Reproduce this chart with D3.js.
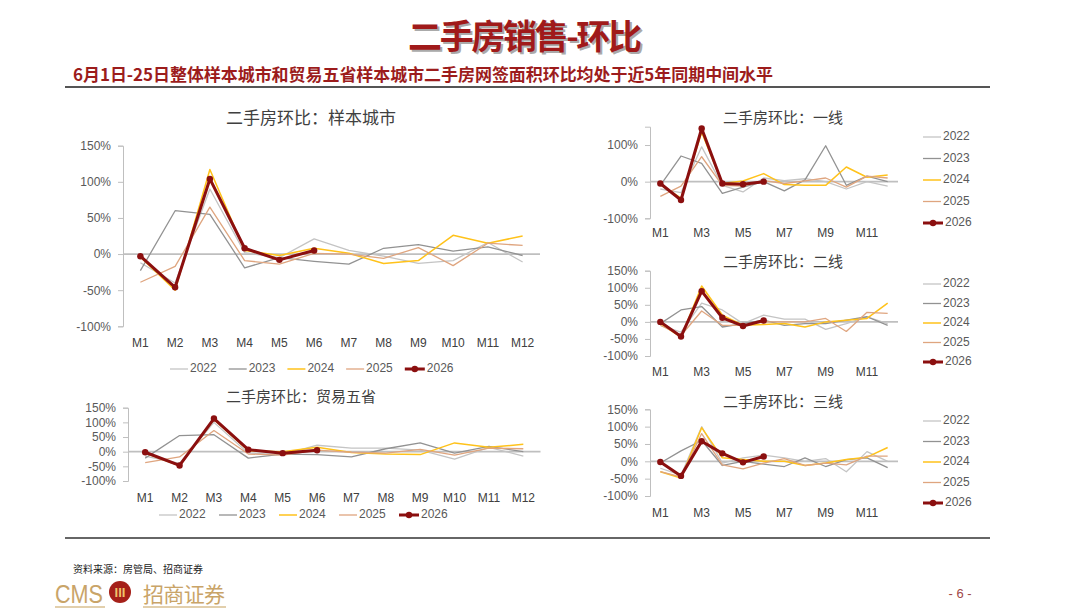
<!DOCTYPE html>
<html>
<head>
<meta charset="utf-8">
<script src="https://cdn.jsdelivr.net/npm/d3@7"></script>
<style>
  body { margin: 0; background: #fff; }
  text { font-family: "Liberation Sans", "Noto Sans CJK SC", sans-serif; }
  .cjk { font-family: "Noto Sans CJK SC", sans-serif; }
</style>
</head>
<body>
<div id="chart"></div>
<script>
const months = ["M1","M2","M3","M4","M5","M6","M7","M8","M9","M10","M11","M12"];
const years = ["2022","2023","2024","2025","2026"];
const yearColors = ["#c4c4c4","#929292","#ffc21a","#dfa57f","#8b0f0f"];
const yearWidths = [1.3,1.3,1.5,1.3,3];

// 样本城市 (% m/m), order: 2022..2026
const sampleCity = [
  [-12,-40,90,2,-5,21,5,-3,-13,-9,16,-11],
  [-23,60,55,-19,-5,-10,-14,8,13,4,10,-2],
  [-4,-50,117,5,-2,8,1,-13,-9,26,15,25],
  [-39,-17,65,-9,-14,1,0,-6,9,-16,15,12],
  [-3,-46,104,8,-8,5]
];
// 贸易五省
const fiveProv = [
  [-15,-40,100,-5,-10,22,12,12,5,-25,15,-15],
  [-22,55,58,-22,-8,-10,-18,10,30,-5,18,0],
  [-5,-48,110,3,0,15,-3,-8,-10,30,15,25],
  [-37,-18,72,-8,-12,5,-2,-5,8,-12,12,10],
  [-2,-47,113,7,-5,5]
];
// 一线
const tier1 = [
  [-20,-30,95,-10,-28,10,3,8,0,-20,0,-12],
  [-10,70,50,-32,-15,0,-25,5,98,-10,15,0],
  [-8,-45,135,-5,2,22,-8,-10,-10,40,12,18],
  [-40,-12,68,-10,-12,3,-5,2,10,-15,15,10],
  [-5,-50,145,-5,-7,0]
];
// 二线
const tier2 = [
  [-10,-30,55,35,-5,20,8,8,-22,-5,15,-5],
  [-5,35,45,-15,-5,5,-10,-5,-5,5,15,-10],
  [-5,-45,105,20,-10,-8,-5,-15,0,5,10,55],
  [-10,-40,32,-10,-10,0,0,0,10,-28,28,25],
  [0,-43,90,12,-12,4]
];
// 三线
const tier3 = [
  [-20,-40,100,-5,10,18,10,0,8,-30,28,0],
  [-5,30,60,-12,0,-8,-15,10,-15,5,10,-18],
  [-30,-48,97,10,5,0,0,-12,-5,5,12,40],
  [-30,-45,80,-10,-22,-5,8,-12,-5,-10,15,15],
  [-2,-42,58,23,-3,14]
];

const svg = d3.select("#chart").append("svg")
  .attr("width", 1080).attr("height", 608);

// header
svg.append("text").attr("class","cjk")
  .attr("x", 527).attr("y", 51).attr("text-anchor","middle")
  .attr("font-size", 34).attr("font-weight","bold").attr("fill","#aaa")
  .attr("textLength", 234).text("二手房销售-环比");
svg.append("text").attr("class","cjk")
  .attr("x", 525).attr("y", 49).attr("text-anchor","middle")
  .attr("font-size", 34).attr("font-weight","bold").attr("fill","#a01a1a")
  .attr("textLength", 234).text("二手房销售-环比");
svg.append("text").attr("class","cjk")
  .attr("x", 73).attr("y", 81)
  .attr("font-size", 17).attr("font-weight","bold").attr("fill","#9c1c1c")
  .attr("textLength", 700)
  .text("6月1日-25日整体样本城市和贸易五省样本城市二手房网签面积环比均处于近5年同期中间水平");
svg.append("line").attr("x1",65).attr("x2",990).attr("y1",87).attr("y2",87)
  .attr("stroke","#555").attr("stroke-width",2);
svg.append("line").attr("x1",65).attr("x2",990).attr("y1",538).attr("y2",538)
  .attr("stroke","#666").attr("stroke-width",2);

function drawPanel(cfg) {
  const g = svg.append("g");
  const x = d3.scaleBand().domain(months).range([cfg.x0, cfg.x1]);
  const y = d3.scaleLinear().domain([-100, 150]).range([cfg.yb, cfg.yt]);

  g.append("text").attr("class","cjk")
    .attr("x", cfg.titleX).attr("y", cfg.titleY).attr("text-anchor","middle")
    .attr("dominant-baseline","middle")
    .attr("font-size", cfg.titleSize).attr("fill","#404040").text(cfg.title);

  const ya = g.append("g").attr("transform", `translate(${cfg.x0},0)`)
    .call(d3.axisLeft(y).tickValues(cfg.yTicks).tickFormat(d => d + "%")
      .tickSize(5).tickPadding(7));
  ya.select(".domain").attr("stroke","#bfbfbf");
  ya.selectAll(".tick line").attr("stroke","#bfbfbf");
  ya.selectAll(".tick text").attr("font-size",12).attr("fill","#595959")
    .attr("font-family","Liberation Sans");

  g.append("line").attr("x1", cfg.x0).attr("x2", cfg.x1)
    .attr("y1", y(0)).attr("y2", y(0))
    .attr("stroke","#bfbfbf").attr("stroke-width",1.8);

  const xa = g.append("g").attr("transform", `translate(0,${cfg.labelY - 7})`)
    .call(d3.axisBottom(x).tickValues(cfg.xTicks).tickSize(0).tickPadding(0));
  xa.select(".domain").remove();
  xa.selectAll(".tick text").attr("font-size",12).attr("fill","#404040")
    .attr("font-family","Liberation Sans");

  const line = d3.line()
    .x((d, i) => x(months[i]) + x.bandwidth() / 2)
    .y(d => y(d));

  cfg.data.forEach((vals, k) => {
    g.append("path").datum(vals)
      .attr("d", line).attr("fill","none")
      .attr("stroke", yearColors[k]).attr("stroke-width", yearWidths[k])
      .attr("stroke-linejoin","round");
  });
  const last = cfg.data[4];
  g.selectAll(".dot").data(last).enter().append("circle")
    .attr("cx", (d, i) => x(months[i]) + x.bandwidth() / 2)
    .attr("cy", d => y(d)).attr("r", 3.2).attr("fill", yearColors[4]);

  // legend
  years.forEach((yr, k) => {
    let lx, ly;
    if (cfg.legendVertical) {
      lx = cfg.legendX; ly = cfg.legendY + k * cfg.legendStep;
    } else {
      lx = cfg.legendX + k * cfg.legendStep; ly = cfg.legendY;
    }
    const len = k === 4 ? 20 : 18;
    g.append("line").attr("x1", lx).attr("x2", lx + len).attr("y1", ly).attr("y2", ly)
      .attr("stroke", yearColors[k]).attr("stroke-width", yearWidths[k]);
    if (k === 4) {
      g.append("circle").attr("cx", lx + len / 2).attr("cy", ly).attr("r", 3.2)
        .attr("fill", yearColors[k]);
    }
    g.append("text").attr("x", lx + len + 2).attr("y", ly)
      .attr("dominant-baseline","middle").attr("font-size",12)
      .attr("fill","#595959").text(yr);
  });
}

const leftTicks = [-100,-50,0,50,100,150];
const oddMonths = months.filter((d, i) => i % 2 === 0);

drawPanel({ data: sampleCity, title: "二手房环比：样本城市", titleX: 311, titleY: 119, titleSize: 17,
  x0: 123, x1: 540, yt: 145.7, yb: 326.3, yTicks: leftTicks, xTicks: months, labelY: 345,
  legendX: 170, legendY: 369, legendStep: 58.7, legendVertical: false });

drawPanel({ data: fiveProv, title: "二手房环比：贸易五省", titleX: 301, titleY: 398, titleSize: 15,
  x0: 128, x1: 540.5, yt: 407.7, yb: 481, yTicks: leftTicks, xTicks: months, labelY: 500,
  legendX: 159, legendY: 515, legendStep: 60, legendVertical: false });

drawPanel({ data: tier1, title: "二手房环比：一线", titleX: 783, titleY: 119, titleSize: 15,
  x0: 650, x1: 898, yt: 126.7, yb: 218.3, yTicks: [-100,0,100], xTicks: oddMonths, labelY: 235,
  legendX: 923, legendY: 137, legendStep: 21.5, legendVertical: true });

drawPanel({ data: tier2, title: "二手房环比：二线", titleX: 783, titleY: 263, titleSize: 15,
  x0: 650, x1: 898, yt: 270.7, yb: 356, yTicks: leftTicks, xTicks: oddMonths, labelY: 374,
  legendX: 923, legendY: 284, legendStep: 19.5, legendVertical: true });

drawPanel({ data: tier3, title: "二手房环比：三线", titleX: 783, titleY: 403, titleSize: 15,
  x0: 650, x1: 898, yt: 409.3, yb: 496, yTicks: leftTicks, xTicks: oddMonths, labelY: 515,
  legendX: 923, legendY: 421, legendStep: 20.5, legendVertical: true });

// footer
svg.append("text").attr("class","cjk").attr("x", 73).attr("y", 573)
  .attr("font-size", 10).attr("fill","#222").text("资料来源：房管局、招商证券");
svg.append("text").attr("x", 55).attr("y", 603)
  .attr("font-size", 26).attr("fill","#c9a468")
  .attr("textLength", 48).attr("lengthAdjust","spacingAndGlyphs").text("CMS");
svg.append("circle").attr("cx", 120).attr("cy", 592).attr("r", 11).attr("fill","#a52019");
svg.append("text").attr("x", 120).attr("y", 597).attr("text-anchor","middle")
  .attr("font-size", 13).attr("font-weight","bold").attr("fill","#f0c46a").text("III");
svg.append("text").attr("class","cjk").attr("x", 143).attr("y", 602)
  .attr("font-size", 21).attr("fill","#c9a468").attr("textLength", 82).text("招商证券");
svg.append("line").attr("x1",55).attr("x2",105).attr("y1",607).attr("y2",607)
  .attr("stroke","#d8bf90").attr("stroke-width",1.5);
svg.append("line").attr("x1",143).attr("x2",226).attr("y1",607).attr("y2",607)
  .attr("stroke","#d8bf90").attr("stroke-width",1.5);
svg.append("text").attr("x", 960).attr("y", 598).attr("text-anchor","middle")
  .attr("font-size", 13).attr("fill","#a04848").text("- 6 -");
</script>
</body>
</html>
